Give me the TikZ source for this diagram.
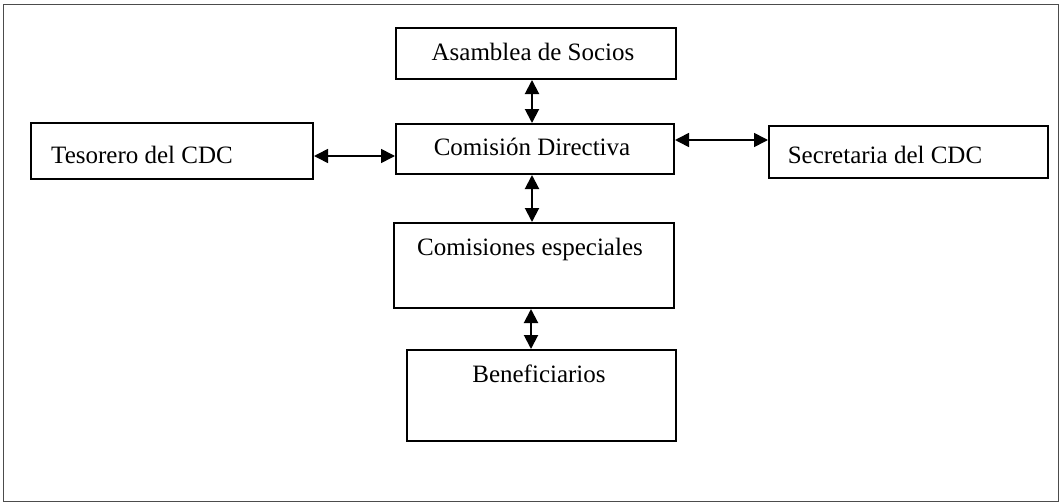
\documentclass[tikz,border=0pt]{standalone}
\usepackage{fontspec}
\setmainfont{Liberation Serif}
\usetikzlibrary{arrows.meta}
\begin{document}
\begin{tikzpicture}[x=1pt,y=-1pt,
  box/.style={draw=black,line width=2pt,inner sep=0pt,anchor=north west},
  lbl/.style={anchor=base,inner sep=0pt,font=\fontsize{25}{29}\selectfont},
  conn/.style={line width=2pt,{Triangle[length=14pt,width=14pt]}-{Triangle[length=14pt,width=14pt]}},
  frame/.style={draw=black!70,line width=1pt}]
\useasboundingbox (0,0) rectangle (1060,503);
\draw[frame] (3,5) rectangle (1058,501);
% boxes
\node[box,minimum width=280pt,minimum height=51pt] (asam) at (395,27) {};
\node[box,minimum width=278pt,minimum height=50pt] (cd) at (395,123) {};
\node[box,minimum width=282pt,minimum height=56pt] (tes) at (30,122) {};
\node[box,minimum width=279pt,minimum height=52pt] (sec) at (768,125) {};
\node[box,minimum width=280pt,minimum height=85pt] (ce) at (393,222) {};
\node[box,minimum width=269pt,minimum height=91pt] (ben) at (406,349) {};
% texts
\node[lbl] (tasam) at (533,60) {Asamblea de Socios};
\node[lbl] (tcd) at (532,155) {Comisión Directiva};
\node[lbl] (ttes) at (142,163) {Tesorero del CDC};
\node[lbl] (tsec) at (885,163) {Secretaria del CDC};
\node[lbl] (tce) at (530,255) {Comisiones especiales};
\node[lbl] (tben) at (539,382) {Beneficiarios};
% connectors
\draw[conn] (asam.south -| 532,0) -- (cd.north -| 532,0);
\draw[conn] (cd.south -| 532,0) -- (ce.north -| 532,0);
\draw[conn] (ce.south -| 531,0) -- (ben.north -| 531,0);
\draw[conn,line width=1.6pt] (tes.east |- 0,156) -- (cd.west |- 0,156);
\draw[conn,line width=1.6pt] (cd.east |- 0,140) -- (sec.west |- 0,140);
\end{tikzpicture}
\end{document}
